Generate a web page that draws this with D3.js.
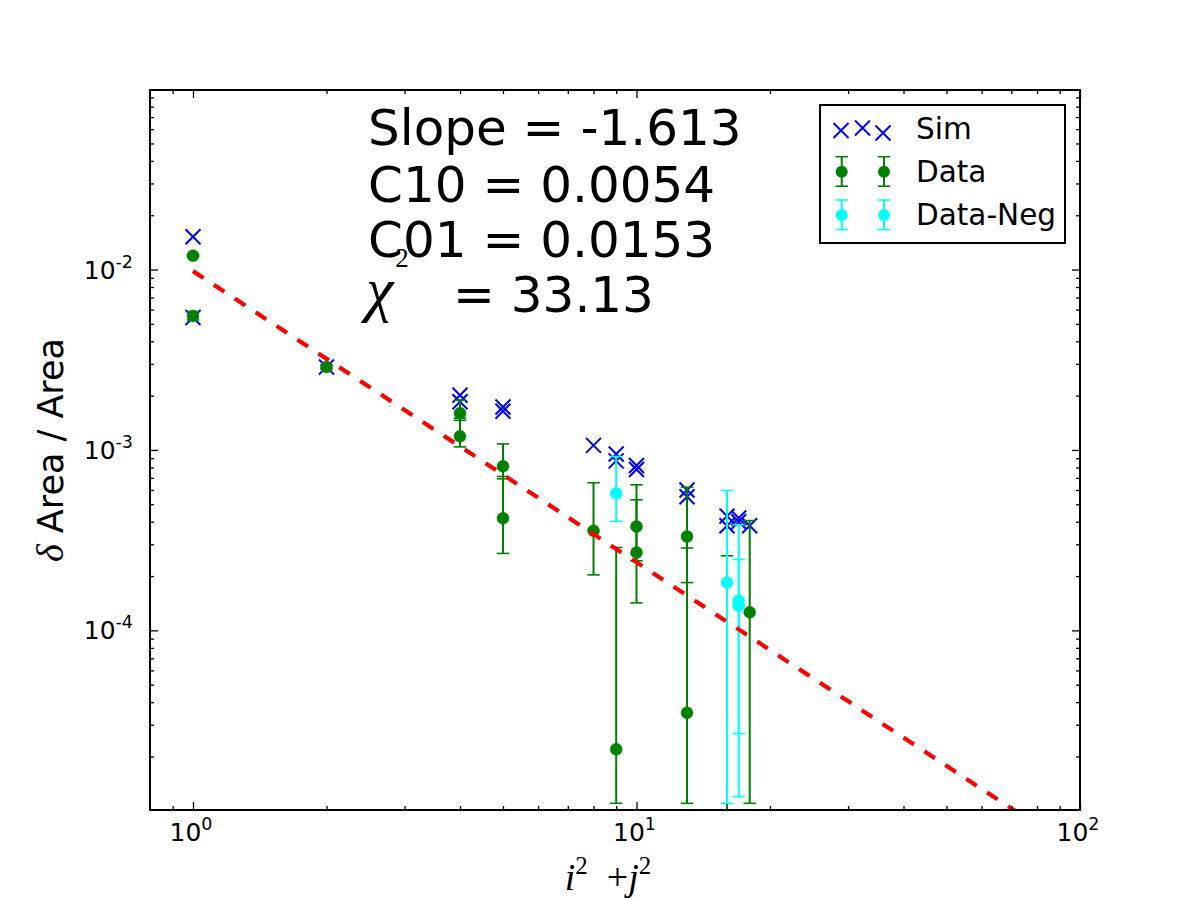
<!DOCTYPE html>
<html>
<head>
<meta charset="utf-8">
<script src="https://cdn.jsdelivr.net/npm/d3@7"></script>
<style>
  html, body { margin: 0; padding: 0; background: #ffffff; }
  svg { display: block; }
</style>
</head>
<body>
<script>
// ---------------- data ----------------
const simX = [1, 1, 2, 4, 4, 5, 5, 8, 9, 9, 10, 10, 13, 13, 16, 16, 17, 17, 18];
const simY = [0.0152, 0.00542, 0.00288, 0.00201, 0.00185, 0.00173, 0.00164, 0.00106,
              0.00095, 0.00087, 0.00082, 0.00078, 0.00060, 0.00055, 0.00043, 0.00038,
              0.00042, 0.00040, 0.00038];

const dataX  = [1, 1, 2, 4, 4, 5, 5, 8, 9, 10, 10, 13, 13, 16, 18];
const dataY  = [0.01194, 0.00553, 0.00288, 0.00160, 0.00119, 0.000813, 0.000418, 0.000357,
                0.0000219, 0.000376, 0.000270, 0.000331, 0.0000349, 0.000008, 0.000126];
const dataLo = [0.0118, 0.00525, 0.00281, 0.00146, 0.00104, 0.000692, 0.000267, 0.000203,
                0.000011, 0.000243, 0.000142, 0.000184, 0.000011, 0.000004, 0.000011];
const dataHi = [0.0121, 0.00585, 0.00295, 0.00189, 0.00150, 0.00108, 0.000713, 0.000658,
                0.000288, 0.000641, 0.000529, 0.000621, 0.000286, 0.000259, 0.000406];

const negX  = [9, 16, 17, 17];
const negY  = [0.000575, 0.000184, 0.000146, 0.000137];
const negLo = [0.000402, 0.000011, 0.000012, 0.0000268];
const negHi = [0.00092, 0.000596, 0.000385, 0.000247];

const fitX = [1, 100];
const fitY = [0.0098, 0.0000058];

const xMajorTicks = [1, 10, 100];
const xMajorLabels = ["0", "1", "2"];
const yMajorTicks = [1e-4, 1e-3, 1e-2];
const yMajorLabels = ["-4", "-3", "-2"];

const legendLabels = ["Sim", "Data", "Data-Neg"];
const annotLines = ["Slope = -1.613", "C10 = 0.0054", "C01 = 0.0153"];
const chiText = "= 33.13";

// ---------------- layout ----------------
const W = 1200, H = 900;
const L = 150, R = 1080, T = 90, B = 810;
const COL = { sim: "#0000ff", data: "#008000", neg: "#00ffff", fit: "#ff0000" };

const svg = d3.select("body").append("svg")
  .attr("width", W).attr("height", H)
  .style("font-family", "'DejaVu Sans', sans-serif");

svg.append("rect").attr("width", W).attr("height", H).attr("fill", "#ffffff");

const x = d3.scaleLog().domain([0.8, 100]).range([L, R]);
const y = d3.scaleLog().domain([1.01e-5, 0.0989]).range([B, T]);

// minor tick positions
const xMinor = [0.9].concat(d3.range(2, 10), d3.range(20, 100, 10));
const yMinor = [];
[1e-5, 1e-4, 1e-3, 1e-2].forEach(d => d3.range(2, 10).forEach(k => yMinor.push(d * k)));

svg.append("defs").append("clipPath").attr("id", "plotclip")
  .append("rect").attr("x", L).attr("y", T).attr("width", R - L).attr("height", B - T);

const plot = svg.append("g").attr("clip-path", "url(#plotclip)");

// ---------------- marks ----------------
function drawX(g, cx, cy, s) {
  g.append("path")
    .attr("d", `M${cx - s},${cy - s}L${cx + s},${cy + s}M${cx - s},${cy + s}L${cx + s},${cy - s}`)
    .attr("stroke", COL.sim).attr("stroke-width", 2).attr("fill", "none");
}

// Sim
simX.forEach((d, i) => drawX(plot, x(d), y(simY[i]), 7.5));

// errorbar series
function drawErr(g, xs, ys, lo, hi, color) {
  const cap = 6.25;
  xs.forEach((d, i) => {
    const cx = x(d), y0 = y(lo[i]), y1 = y(hi[i]);
    g.append("line").attr("x1", cx).attr("x2", cx).attr("y1", y0).attr("y2", y1)
      .attr("stroke", color).attr("stroke-width", 2);
    [y0, y1].forEach(yy => g.append("line")
      .attr("x1", cx - cap).attr("x2", cx + cap).attr("y1", yy).attr("y2", yy)
      .attr("stroke", color).attr("stroke-width", 1.6));
  });
  xs.forEach((d, i) => {
    g.append("circle").attr("cx", x(d)).attr("cy", y(ys[i])).attr("r", 6)
      .attr("fill", color).attr("stroke", color).attr("stroke-width", 0.5);
  });
}
drawErr(plot, dataX, dataY, dataLo, dataHi, COL.data);
drawErr(plot, negX, negY, negLo, negHi, COL.neg);

// fit line
plot.append("path")
  .attr("d", d3.line().x(d => x(d[0])).y(d => y(d[1]))(fitX.map((d, i) => [d, fitY[i]])))
  .attr("stroke", COL.fit).attr("stroke-width", 4.2).attr("fill", "none")
  .attr("stroke-dasharray", "12.5,12.5");

// ---------------- axes (ticks inward on all four sides) ----------------
function tickAxis(axisFn, scale, vals, size, transform) {
  const g = svg.append("g").attr("transform", transform)
    .call(axisFn(scale).tickValues(vals).tickSize(-size).tickFormat(""));
  g.select(".domain").remove();
  g.selectAll(".tick line").attr("stroke", "#000").attr("stroke-width", 1.3);
  g.selectAll(".tick text").remove();
}
tickAxis(d3.axisBottom, x, xMajorTicks, 8, `translate(0,${B})`);
tickAxis(d3.axisBottom, x, xMinor, 4, `translate(0,${B})`);
tickAxis(d3.axisTop, x, xMajorTicks, 8, `translate(0,${T})`);
tickAxis(d3.axisTop, x, xMinor, 4, `translate(0,${T})`);
tickAxis(d3.axisLeft, y, yMajorTicks, 8, `translate(${L},0)`);
tickAxis(d3.axisLeft, y, yMinor, 4, `translate(${L},0)`);
tickAxis(d3.axisRight, y, yMajorTicks, 8, `translate(${R},0)`);
tickAxis(d3.axisRight, y, yMinor, 4, `translate(${R},0)`);

// frame
svg.append("rect").attr("x", L).attr("y", T).attr("width", R - L).attr("height", B - T)
  .attr("fill", "none").attr("stroke", "#000").attr("stroke-width", 2);

// tick labels
xMajorTicks.forEach((d, i) => {
  const t = svg.append("text").attr("x", x(d) - 2).attr("y", 841)
    .attr("text-anchor", "middle").attr("font-size", 25).attr("fill", "#000");
  t.append("tspan").text("10");
  t.append("tspan").attr("font-size", 17.5).attr("dy", -11).text(xMajorLabels[i]);
});
yMajorTicks.forEach((d, i) => {
  const t = svg.append("text").attr("x", 133).attr("y", y(d) + 9)
    .attr("text-anchor", "end").attr("font-size", 25).attr("fill", "#000");
  t.append("tspan").text("10");
  t.append("tspan").attr("font-size", 17.5).attr("dy", -11).text(yMajorLabels[i]);
});

// axis labels
const yl = svg.append("text").attr("transform", "translate(63,450) rotate(-90)")
  .attr("text-anchor", "middle").attr("font-size", 35).attr("fill", "#000");
yl.append("tspan").attr("font-family", "'Liberation Serif', serif").attr("font-style", "italic")
  .attr("font-size", 38).text("\u03b4");
yl.append("tspan").text("\u00a0Area / Area");

const xl = svg.append("text").attr("x", 608).attr("y", 890)
  .attr("text-anchor", "middle").attr("font-size", 38).attr("fill", "#000")
  .style("font-family", "'Liberation Serif', serif");
xl.append("tspan").attr("font-style", "italic").text("i");
xl.append("tspan").attr("font-size", 25).attr("dy", -16).text("2");
xl.append("tspan").attr("dy", 16).text("\u00a0\u00a0+");
xl.append("tspan").attr("font-style", "italic").text("j");
xl.append("tspan").attr("font-size", 25).attr("dy", -16).text("2");

// annotation
const annotY = [145, 201.5, 256.5];
annotLines.forEach((s, i) => {
  svg.append("text").attr("x", 368).attr("y", annotY[i]).attr("font-size", 50)
    .attr("fill", "#000").text(s);
});
const chi = svg.append("text").attr("x", 366).attr("y", 310).attr("font-size", 62)
  .attr("fill", "#000").style("font-family", "'Liberation Serif', serif");
chi.append("tspan").attr("font-style", "italic").text("\u03c7");
chi.append("tspan").attr("font-size", 27).attr("dx", 2).attr("dy", -43).text("2");
svg.append("text").attr("x", 453).attr("y", 311.5).attr("font-size", 50)
  .attr("fill", "#000").text(chiText);

// ---------------- legend ----------------
const lg = svg.append("g");
lg.append("rect").attr("x", 820).attr("y", 105).attr("width", 245).attr("height", 138)
  .attr("fill", "#ffffff").attr("stroke", "#000").attr("stroke-width", 2);
[[841, 130.5], [862.5, 128], [883, 133]].forEach(p => drawX(lg, p[0], p[1], 7.5));
function legendErr(cy, color) {
  [841.7, 884].forEach(cx => {
    lg.append("line").attr("x1", cx).attr("x2", cx).attr("y1", cy - 15).attr("y2", cy + 14.5)
      .attr("stroke", color).attr("stroke-width", 2);
    [cy - 15, cy + 14.5].forEach(yy => lg.append("line")
      .attr("x1", cx - 6.25).attr("x2", cx + 6.25).attr("y1", yy).attr("y2", yy)
      .attr("stroke", color).attr("stroke-width", 1.6));
    lg.append("circle").attr("cx", cx).attr("cy", cy).attr("r", 6).attr("fill", color);
  });
}
legendErr(171.7, COL.data);
legendErr(215, COL.neg);
const legY = [139, 182, 225];
legendLabels.forEach((s, i) => {
  lg.append("text").attr("x", 916).attr("y", legY[i]).attr("font-size", 29.5)
    .attr("fill", "#000").text(s);
});
</script>
</body>
</html>
